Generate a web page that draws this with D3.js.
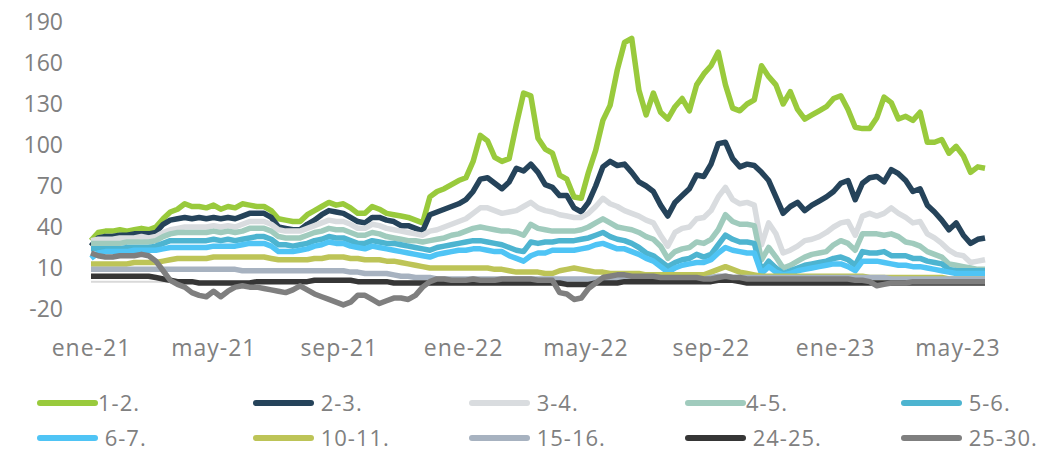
<!DOCTYPE html>
<html><head><meta charset="utf-8">
<script src="https://cdn.jsdelivr.net/npm/d3@7"></script>
<style>
body{margin:0;background:#fff}
svg{display:block}
text{font-family:"Open Sans",sans-serif;fill:#808080}
</style>
</head><body><svg id="c" width="1043" height="451"></svg>
<script>
// ---- data ----
const firstDate = "2021-01-01";   // first observation
const lastDate = "2023-05-28";    // last observation (125 roughly weekly samples)
const sampleCount = 125;
const categories = ["1-2.", " 2-3.", " 3-4.", "4-5.", " 5-6.", " 6-7.", " 10-11.", " 15-16.", " 24-25.", " 25-30."];

const s1_2 = [30,36,37,37,38,37,38,39,38,40,
46,51,53,57,55,55,54,56,53,55,
54,57,56,55,55,52,46,45,44,44,
49,52,55,58,56,57,54,50,50,55,
53,50,49,48,47,45,43,62,66,68,
71,74,76,88,107,103,91,88,90,115,
138,136,105,97,94,78,75,62,61,80,
96,118,129,155,175,178,140,122,138,124,
119,128,134,125,144,152,158,168,144,127,
125,130,133,158,150,144,130,139,126,119,
122,125,128,134,136,126,113,112,112,120,
135,131,119,121,118,124,102,102,104,94,
99,92,80,84,83];
const s2_3 = [26,32,33,33,34,34,35,35,35,36,
42,45,46,47,46,47,46,47,46,47,
46,48,50,50,50,47,40,39,38,38,
42,45,49,52,51,50,47,44,43,47,
47,45,44,41,41,39,37,49,51,53,
55,57,60,66,75,76,72,68,73,83,
81,86,80,71,69,63,63,54,51,58,
70,84,88,85,86,80,73,70,66,56,
48,58,63,68,78,77,86,101,102,90,
84,86,85,80,74,62,50,55,58,52,
56,59,62,66,72,74,60,72,76,77,
73,82,79,74,66,68,56,51,45,38,
43,34,28,31,32];
const s3_4 = [30,31,31,31,32,32,32,33,32,33,
36,38,39,40,40,40,40,41,40,41,
40,42,44,44,44,42,38,37,37,37,
39,41,43,45,44,44,42,39,39,42,
41,39,38,37,36,35,34,37,38,40,
42,44,46,50,54,54,52,50,51,52,
55,58,54,52,51,49,48,47,47,50,
55,61,57,55,52,50,48,45,43,34,
26,36,39,40,46,47,52,62,69,60,
57,58,56,27,43,35,21,23,26,30,
31,33,36,40,43,44,34,48,50,48,
50,54,50,47,43,44,35,32,28,23,
20,19,14,15,16];
const s4_5 = [28,28,28,28,28,29,29,29,29,30,
33,35,36,36,36,36,36,37,36,37,
36,37,39,39,39,37,33,32,32,32,
34,36,37,39,38,38,36,34,34,36,
35,33,32,31,30,30,29,30,31,32,
34,35,37,39,40,39,38,37,37,36,
34,42,39,38,37,37,37,37,38,40,
43,46,43,40,39,38,36,33,31,26,
17,22,24,25,29,28,31,38,49,44,
42,42,41,16,25,18,10,12,15,18,
20,21,22,27,30,28,23,35,35,35,
34,35,33,29,28,26,22,20,18,13,
12,11,10,9,9];
const s5_6 = [24,24,24,24,24,25,25,25,25,26,
28,30,30,30,30,30,30,31,30,31,
30,31,32,33,33,31,27,27,26,27,
28,30,31,33,32,32,30,28,28,30,
29,28,28,27,26,25,24,23,25,26,
27,28,29,30,30,29,28,27,25,23,
22,29,28,29,29,30,30,30,31,32,
34,36,33,31,30,28,25,21,19,15,
11,14,16,17,20,18,20,27,34,31,
29,29,28,8,15,10,6,8,10,12,
13,14,15,17,18,16,12,22,21,21,
22,19,19,19,17,17,15,14,13,9,
8,8,8,8,8];
const s6_7 = [17,21,22,22,22,22,23,23,23,23,
24,25,25,25,25,25,25,26,26,26,
26,27,28,28,28,26,22,22,22,23,
24,26,27,29,28,28,26,25,24,26,
25,24,23,22,21,20,19,18,20,21,
22,23,23,24,24,23,22,22,19,17,
15,19,21,21,23,23,23,23,24,25,
27,28,26,24,24,22,20,17,15,11,
7,10,12,13,14,14,16,21,25,23,
22,21,21,6,11,7,5,6,8,9,
10,11,12,13,13,11,8,15,15,15,
14,13,12,12,11,11,10,9,8,7,
6,6,6,6,6];
const s10_11 = [13,13,13,13,13,13,14,14,14,14,
15,16,17,17,17,17,17,18,18,18,
18,18,18,18,18,17,16,16,16,16,
16,17,17,18,18,18,17,17,16,16,
16,15,15,14,13,12,11,10,10,10,
10,10,10,10,10,10,9,9,8,7,
7,7,7,6,6,8,9,10,9,8,
7,7,6,6,6,6,6,5,5,5,
5,5,5,5,5,5,7,9,11,9,
7,6,5,4,4,4,4,4,4,4,
4,4,4,4,4,4,4,4,3,3,
3,3,3,3,3,3,3,3,3,2,
2,2,2,2,2];
const s15_16 = [9,9,9,9,9,9,9,9,9,9,
9,9,9,9,9,9,9,9,9,9,
9,8,8,8,8,8,8,8,8,8,
8,8,8,8,8,8,7,7,6,6,
6,6,5,4,4,3,3,3,2,2,
2,2,2,2,2,2,2,2,2,2,
2,2,2,2,2,2,2,2,2,2,
2,2,2,2,2,2,2,2,2,2,
2,2,2,2,2,2,3,4,4,3,
3,3,3,3,3,3,3,3,3,3,
3,3,3,3,3,3,3,3,3,3,
3,2,2,2,2,2,2,2,2,2,
2,2,2,2,2];
const s24_25 = [4,4,4,4,4,4,4,4,4,3,
2,1,0,0,0,-1,-1,-1,-1,-1,
-1,-1,-1,0,0,0,0,0,0,0,
0,1,1,1,1,1,1,0,0,0,
0,0,-1,-1,-1,-1,-1,-1,-1,-1,
-1,-1,-1,-1,-1,-1,-1,-1,-1,-1,
-1,-1,-1,-1,-1,-1,-2,-2,-2,-2,
-1,-1,-1,-1,0,0,0,0,0,0,
0,0,0,0,0,0,0,1,1,1,
0,-1,-1,-1,-1,-1,-1,-1,-1,-1,
-1,-1,-1,-1,-1,-1,-1,-1,-1,-1,
-1,-1,-1,-1,-1,-1,-1,-1,-1,-1,
-1,-1,-1,-1,-1];
const s25_30 = [21,19,18,18,19,19,19,20,19,15,
8,1,-2,-4,-8,-10,-11,-7,-11,-7,
-4,-3,-4,-4,-5,-6,-7,-8,-6,-3,
-6,-9,-11,-13,-15,-17,-15,-10,-10,-13,
-16,-14,-12,-12,-13,-10,-4,0,2,2,
1,1,1,2,1,1,1,2,2,2,
2,2,1,1,1,-8,-9,-13,-12,-5,
-1,3,4,5,5,4,4,4,4,3,
3,3,3,3,3,2,2,3,4,3,
3,2,2,2,2,2,2,2,2,2,
2,2,2,2,2,2,1,1,0,-3,
-2,-1,-1,-1,0,0,0,0,0,0,
0,0,0,0,0];

const yTickValues = [-20, 10, 40, 70, 100, 130, 160, 190];
const xTickDates = ["2021-01-01","2021-05-01","2021-09-01","2022-01-01","2022-05-01","2022-09-01","2023-01-01","2023-05-01"];
const xTickLabels = ["ene-21","may-21","sep-21","ene-22","may-22","sep-22","ene-23","may-23"];

// ---- styles ----
const palette = ["#99ca3c","#25435a","#d9dcdf","#a0cbbd","#4db4d0","#4fc4f5","#bdc457","#a7b2c0","#363636","#7f7f7f"];

// ---- build ----
const seriesValues = [s1_2, s2_3, s3_4, s4_5, s5_6, s6_7, s10_11, s15_16, s24_25, s25_30];
const parse = d3.utcParse("%Y-%m-%d");
const d0 = parse(firstDate), d1 = parse(lastDate);
const sampleDate = d3.scaleUtc().domain([d0, d1]);
const dates = d3.range(sampleCount).map(i => new Date(+d0 + (d1 - d0) * i / (sampleCount - 1)));
const series = categories.map((name, k) => ({
  name, color: palette[k],
  points: seriesValues[k].map((v, i) => ({date: dates[i], value: v}))
}));

const svg = d3.select("#c");
const x = d3.scaleUtc().domain([d0, d1]).range([91, 985]);
const y = d3.scaleLinear().domain([-20, 190]).range([309, 22]);

// y axis
const yAxis = svg.append("g").attr("transform", "translate(63,0)")
  .call(d3.axisLeft(y).tickValues(yTickValues).tickSize(0).tickPadding(0).tickFormat(d => String(d)));
yAxis.select(".domain").remove();
yAxis.selectAll("text").attr("font-size", 23).attr("font-family", null).attr("fill", "#808080");

// x axis
const xAxis = svg.append("g").attr("transform", "translate(0,340)")
  .call(d3.axisBottom(x).tickValues(xTickDates.map(parse)).tickSize(0).tickPadding(0)
    .tickFormat((d, i) => xTickLabels[i]));
xAxis.select(".domain").remove();
xAxis.selectAll("text").attr("font-size", 23).attr("font-family", null).attr("fill", "#808080")
  .style("letter-spacing", "1px");

// zero line
svg.append("line")
  .attr("x1", x(d0)).attr("x2", x(d1))
  .attr("y1", y(0)).attr("y2", y(0))
  .attr("stroke", "#d9d9d9").attr("stroke-width", 2);

// lines
const line = d3.line().x(d => x(d.date)).y(d => y(d.value));
svg.append("g").selectAll("path").data(series).join("path")
  .attr("d", d => line(d.points))
  .attr("fill", "none")
  .attr("stroke", d => d.color)
  .attr("stroke-width", 5.5)
  .attr("stroke-linejoin", "round")
  .attr("stroke-linecap", "butt");

// legend
const legend = svg.append("g");
series.forEach((s, k) => {
  const col = k % 5, row = Math.floor(k / 5);
  const lx = 40 + col * 216, ly = 403 + row * 35;
  const g = legend.append("g").attr("transform", `translate(${lx},${ly})`);
  g.append("line").attr("x1", 0).attr("x2", 55).attr("y1", 0).attr("y2", 0)
    .attr("stroke", s.color).attr("stroke-width", 6).attr("stroke-linecap", "round");
  g.append("text").attr("x", 58).attr("y", 0).attr("dy", "0.35em")
    .attr("font-size", 22).style("white-space", "pre").style("letter-spacing", "1px").text(s.name);
});
</script>
</body></html>
